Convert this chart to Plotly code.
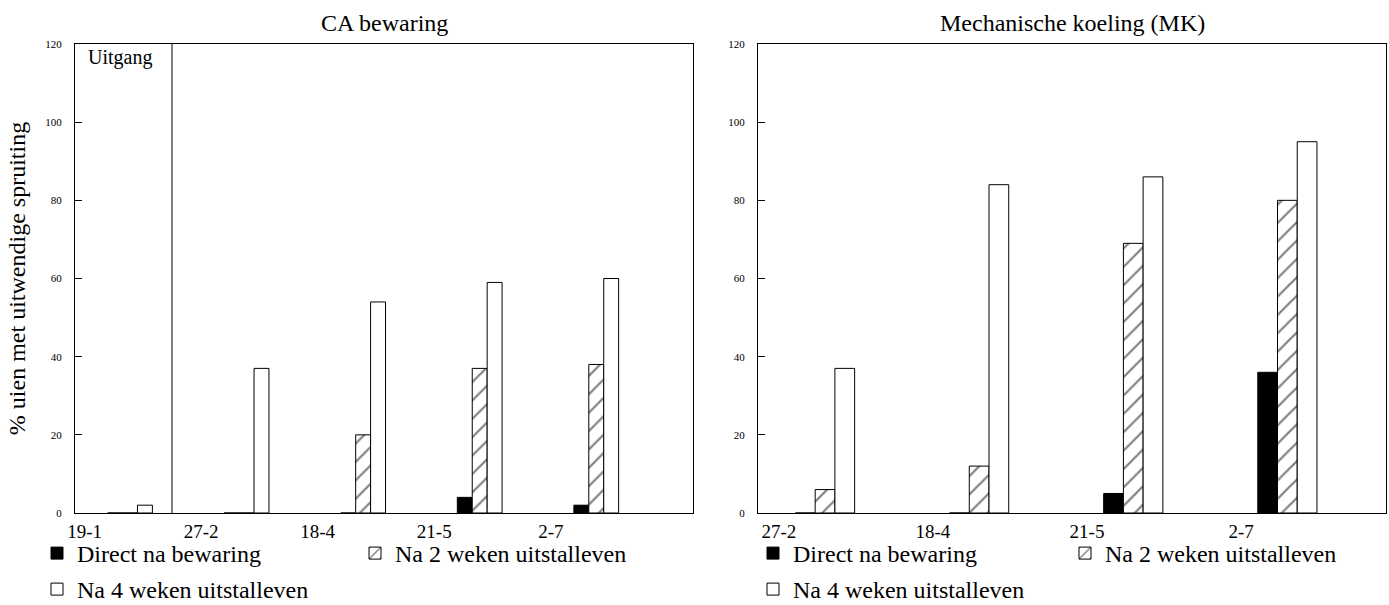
import plotly.graph_objects as go

# ---------------- data ----------------
ca_dates = ["19-1", "27-2", "18-4", "21-5", "2-7"]
ca_direct = [0, 0, 0, 4, 2]
ca_na2 = [0, 0, 20, 37, 38]
ca_na4 = [2, 37, 54, 59, 60]

mk_dates = ["27-2", "18-4", "21-5", "2-7"]
mk_direct = [0, 0, 5, 36]
mk_na2 = [6, 12, 69, 80]
mk_na4 = [37, 84, 86, 95]

series_names = ["Direct na bewaring", "Na 2 weken uitstalleven", "Na 4 weken uitstalleven"]
y_ticks = [0, 20, 40, 60, 80, 100, 120]
panel_titles = ["CA bewaring", "Mechanische koeling (MK)"]
y_title = "% uien met uitwendige spruiting"
uitgang_label = "Uitgang"

# ---------------- layout helpers ----------------
W, H = 1389, 605
FONT = "Liberation Serif"


def fx(p):
    return p / W


def fy(p):
    return 1 - p / H


bar_w = 0.128
offsets = [-bar_w, 0.0, bar_w]
styles = [
    dict(color="black", line=dict(color="black", width=1)),
    dict(color="white", line=dict(color="black", width=1),
         pattern=dict(shape="/", fgcolor="black", bgcolor="white", size=13, solidity=0.17)),
    dict(color="white", line=dict(color="black", width=1)),
]

# legend slot positions (pixel left, pixel top) for each series in each panel
legend_slots = [
    [(37, 531), (355, 531), (37, 567)],
    [(753, 531), (1065, 531), (753, 567)],
]

fig = go.Figure()

panels = [
    dict(dates=ca_dates, vals=[ca_direct, ca_na2, ca_na4], xa="x", ya="y"),
    dict(dates=mk_dates, vals=[mk_direct, mk_na2, mk_na4], xa="x2", ya="y2"),
]

legend_layouts = {}
k = 0
for pi, p in enumerate(panels):
    n = len(p["dates"])
    for j, (name, vals) in enumerate(zip(series_names, p["vals"])):
        k += 1
        lg = "legend" if k == 1 else f"legend{k}"
        lx, ly = legend_slots[pi][j]
        legend_layouts[lg] = dict(
            orientation="v", x=fx(lx), y=fy(ly), xanchor="left", yanchor="top",
            font=dict(family=FONT, size=24, color="black"), bgcolor="rgba(0,0,0,0)",
            borderwidth=0,
        )
        fig.add_trace(go.Bar(
            x=[i + offsets[j] for i in range(n)],
            y=vals,
            width=bar_w,
            name=name,
            marker=styles[j],
            xaxis=p["xa"], yaxis=p["ya"],
            legend=lg,
            showlegend=True,
        ))

ydom = [fy(513), fy(44)]
common_y = dict(
    range=[0, 120], tickvals=y_ticks, ticks="inside", ticklen=7, tickcolor="black",
    showline=True, linecolor="black", linewidth=1, mirror=True, showgrid=False, zeroline=False,
    tickfont=dict(family=FONT, size=11, color="black"), ticklabelstandoff=10,
)
common_x = dict(
    showline=True, linecolor="black", linewidth=1, mirror=True, showgrid=False, zeroline=False,
    ticks="", tickfont=dict(family=FONT, size=19, color="black"), ticklabelstandoff=1,
)

fig.update_layout(
    width=W, height=H,
    margin=dict(l=0, r=0, t=0, b=0, autoexpand=False),
    paper_bgcolor="white", plot_bgcolor="white",
    barmode="overlay",
    xaxis=dict(domain=[fx(75), fx(693)], range=[-0.472, 4.83],
               tickvals=[i - 0.39 for i in range(len(ca_dates))], ticktext=ca_dates, **common_x),
    yaxis=dict(domain=ydom, **common_y,
               title=dict(text=y_title, font=dict(family=FONT, size=24, color="black"), standoff=12)),
    xaxis2=dict(domain=[fx(758), fx(1386)], range=[-0.435, 3.64], anchor="y2",
                tickvals=[i - 0.3 for i in range(len(mk_dates))], ticktext=mk_dates, **common_x),
    yaxis2=dict(domain=ydom, anchor="x2", **common_y),
    showlegend=True,
    **legend_layouts,
)

# panel titles
fig.add_annotation(text=panel_titles[0], x=fx(384), y=fy(23), xref="paper", yref="paper",
                   xanchor="center", yanchor="middle",
                   showarrow=False, font=dict(family=FONT, size=24, color="black"))
fig.add_annotation(text=panel_titles[1], x=fx(1072), y=fy(23), xref="paper", yref="paper",
                   xanchor="center", yanchor="middle",
                   showarrow=False, font=dict(family=FONT, size=24, color="black"))

# "Uitgang" divider and label
fig.add_shape(type="line", xref="x", yref="y", x0=0.36, x1=0.36, y0=0, y1=120,
              line=dict(color="black", width=1))
fig.add_annotation(text=uitgang_label, x=fx(86), y=fy(57), xref="paper", yref="paper",
                   xanchor="left", yanchor="middle", showarrow=False,
                   font=dict(family=FONT, size=20, color="black"))

fig.write_html("out.html")
